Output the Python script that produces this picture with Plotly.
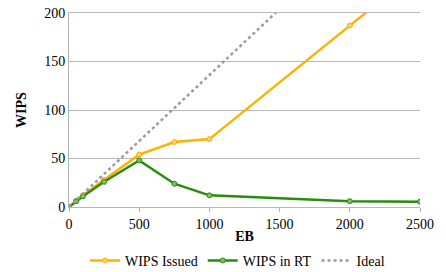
import plotly.graph_objects as go

eb = [0, 50, 100, 250, 500, 750, 1000, 2000, 2500]
wips_issued = [0, 6, 12, 28, 54, 67, 70, 187, 245]
wips_rt = [0, 6, 11, 26, 48, 24, 12, 6, 5.5]
ideal_eb = [0, 50, 100, 250, 500, 750, 1000, 1500, 2000]
ideal = [0, 6.8, 13.6, 34, 68, 102, 136, 204, 272]

x_ticks = [0, 500, 1000, 1500, 2000, 2500]
y_ticks = [0, 50, 100, 150, 200]

orange = "#FFB000"
green = "#2A8C0C"
gray = "#9A9A9A"

FAM = "Liberation Serif, Times New Roman, serif"

fig = go.Figure()
fig.add_trace(go.Scatter(x=eb, y=wips_issued, name="WIPS Issued", mode="lines+markers",
                         line=dict(color=orange, width=2.5),
                         marker=dict(size=5, color="#FFD060", line=dict(color=orange, width=1))))
fig.add_trace(go.Scatter(x=eb, y=wips_rt, name="WIPS in RT", mode="lines+markers",
                         line=dict(color=green, width=2.5),
                         marker=dict(size=5, color="#7CC060", line=dict(color=green, width=1))))
fig.add_trace(go.Scatter(x=ideal_eb, y=ideal, name="Ideal", mode="lines",
                         line=dict(color=gray, width=2.5, dash="dot")))

fig.update_layout(
    width=446, height=272,
    margin=dict(l=69, r=26, t=13, b=65, autoexpand=False),
    paper_bgcolor="white", plot_bgcolor="white",
    font=dict(family=FAM, size=14, color="#000"),
    showlegend=True,
    legend=dict(orientation="h", x=0.48, xanchor="center", y=-0.195, yanchor="top",
                font=dict(family=FAM, size=14), itemwidth=30, tracegroupgap=0),
    xaxis=dict(range=[0, 2500], tickvals=x_ticks, showgrid=False, zeroline=False,
               showline=True, linecolor="#B8B8B8", linewidth=1, mirror=True,
               ticks="outside", ticklen=4, tickcolor="#B0B0B0",
               tickfont=dict(family=FAM, size=14),
               title=dict(text="<b>EB</b>", standoff=0, font=dict(family=FAM, size=14))),
    yaxis=dict(range=[0, 200], tickvals=y_ticks, showgrid=True, gridcolor="#B8B8B8",
               gridwidth=1, zeroline=False, showline=True, linecolor="#B0B0B0",
               ticks="", tickfont=dict(family=FAM, size=14),
               title=dict(text="<b>WIPS</b>", standoff=14, font=dict(family=FAM, size=14))),
)
fig.write_html("out.html", config={"displayModeBar": False},
               post_script="document.body.style.margin='0';")
